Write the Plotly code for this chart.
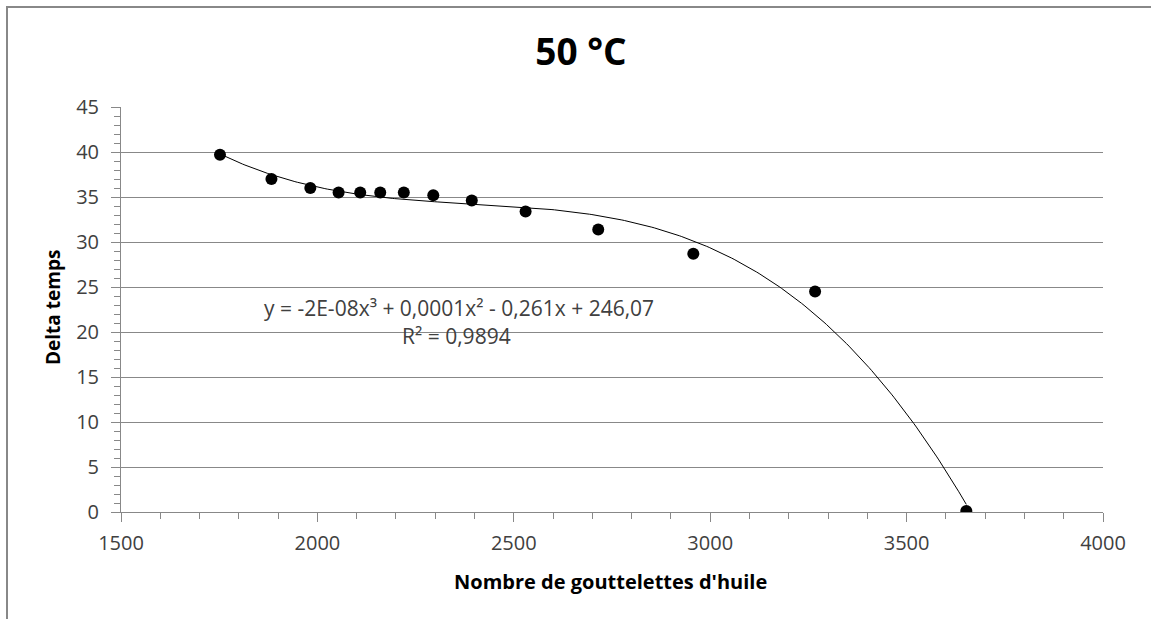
import numpy as np
import plotly.graph_objects as go

# Data
nb_gouttelettes = [1752, 1883, 1982, 2054, 2109, 2160, 2220, 2295, 2393, 2530, 2715, 2957, 3267, 3652]
delta_temps = [39.7, 37.0, 36.0, 35.5, 35.5, 35.5, 35.5, 35.2, 34.6, 33.4, 31.4, 28.7, 24.5, 0.1]

title_text = "50 °C"
x_title = "Nombre de gouttelettes d'huile"
y_title = "Delta temps"
equation_text = "y = -2E-08x³ + 0,0001x² - 0,261x + 246,07"
r2_text = "R² = 0,9894"

x_ticks = [1500, 2000, 2500, 3000, 3500, 4000]
y_ticks = [0, 5, 10, 15, 20, 25, 30, 35, 40, 45]

# Polynomial (order 3) trendline, fitted to the data like the spreadsheet did
coef = np.polyfit(nb_gouttelettes, delta_temps, 3)
xs = np.linspace(min(nb_gouttelettes), max(nb_gouttelettes), 300)
ys = np.polyval(coef, xs)

FONT = "'Open Sans', 'Noto Sans', sans-serif"
GRID = "#888888"
TXT = "#404040"

fig = go.Figure()
fig.add_trace(go.Scatter(x=xs, y=ys, mode="lines",
                         line=dict(color="#000000", width=1), hoverinfo="skip",
                         showlegend=False))
fig.add_trace(go.Scatter(x=nb_gouttelettes, y=delta_temps, mode="markers",
                         marker=dict(color="#000000", size=12), showlegend=False))

W, H = 1151, 619
L, R, T, B = 121, 48, 107, 107
pw, ph = W - L - R, H - T - B


def px(xp):
    return (xp - L) / pw


def py(yp):
    return (H - B - yp) / ph


fig.update_layout(
    width=W, height=H,
    margin=dict(l=L, r=R, t=T, b=B),
    paper_bgcolor="white", plot_bgcolor="white",
    font=dict(family=FONT, color=TXT, size=19),
    title=dict(text="<b>" + title_text + "</b>", x=581 / W, xanchor="center",
               y=1 - 52 / H, yanchor="middle",
               font=dict(family=FONT, size=37, color="#000000")),
    xaxis=dict(range=[1500, 4000], tickvals=x_ticks, ticktext=[str(v) for v in x_ticks],
               showgrid=False, zeroline=False, showline=True, linecolor=GRID, linewidth=1,
               ticks="outside", ticklen=9, tickcolor=GRID, tickwidth=1,
               minor=dict(dtick=100, ticks="outside", ticklen=6, tickcolor=GRID, showgrid=False),
               ticklabelstandoff=4,
               tickfont=dict(size=20, color=TXT)),
    yaxis=dict(range=[0, 45], tickvals=y_ticks, ticktext=[str(v) for v in y_ticks],
               showgrid=True, gridcolor=GRID, gridwidth=1, zeroline=False,
               showline=True, linecolor=GRID, linewidth=1,
               ticks="outside", ticklen=9, tickcolor=GRID, tickwidth=1,
               minor=dict(dtick=1, ticks="outside", ticklen=6, tickcolor=GRID, showgrid=False),
               ticklabelstandoff=8,
               tickfont=dict(size=20, color=TXT)),
    shapes=[dict(type="rect", xref="paper", yref="paper",
                 x0=px(7), x1=1.5, y0=-0.6, y1=py(7),
                 line=dict(color=GRID, width=2), fillcolor="rgba(0,0,0,0)",
                 layer="above")],
    annotations=[
        dict(text=equation_text, xref="paper", yref="paper",
             x=px(459), y=py(308), showarrow=False,
             xanchor="center", yanchor="middle",
             font=dict(family=FONT, size=21, color=TXT)),
        dict(text=r2_text, xref="paper", yref="paper",
             x=px(456), y=py(336), showarrow=False,
             xanchor="center", yanchor="middle",
             font=dict(family=FONT, size=21, color=TXT)),
        dict(text="<b>" + x_title + "</b>", xref="paper", yref="paper",
             x=px(610), y=py(581), showarrow=False,
             xanchor="center", yanchor="middle",
             font=dict(family=FONT, size=20, color="#000000")),
        dict(text="<b>" + y_title + "</b>", xref="paper", yref="paper",
             x=px(53), y=py(308), showarrow=False, textangle=-90,
             xanchor="center", yanchor="middle",
             font=dict(family=FONT, size=19, color="#000000")),
    ],
)

fig.write_html("out.html", config={"displayModeBar": False},
               post_script="document.body.style.margin='0px';document.body.style.overflow='hidden';")
